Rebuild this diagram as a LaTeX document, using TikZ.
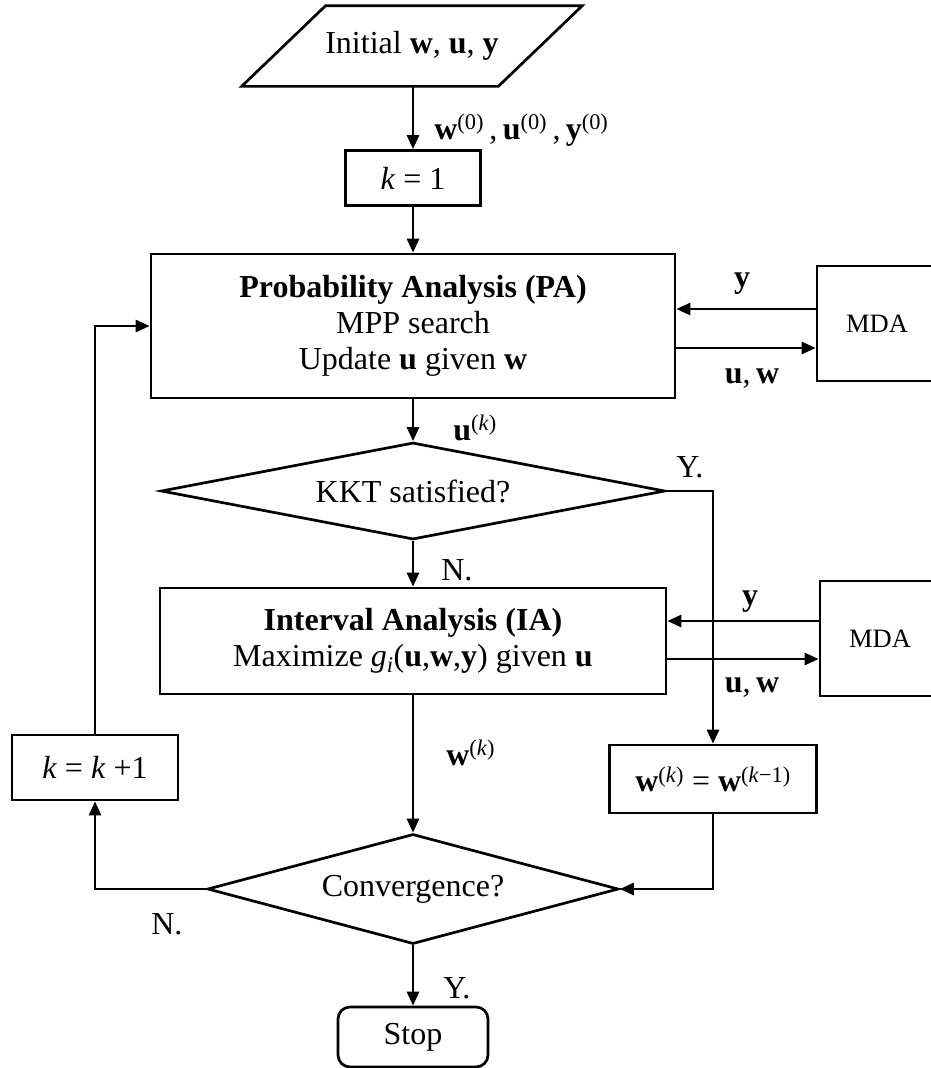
\documentclass[tikz,border=0pt]{standalone}
\usepackage{fontspec}
\setmainfont{Liberation Serif}
\usetikzlibrary{shapes.geometric,arrows.meta}
\begin{document}
\begin{tikzpicture}[x=1pt, y=-1pt, line width=2.7pt, line join=miter,
	font=\fontsize{32}{36}\selectfont, >={Triangle[length=14pt,width=12pt]},
	box/.style={draw, rectangle, inner sep=0pt, align=center},
	decision/.style={draw, diamond, inner sep=0pt},
	mdabox/.style={box, minimum width=120pt, minimum height=115pt, font=\fontsize{26.5}{30}\selectfont},
	lbl/.style={inner sep=0pt, anchor=base west}]
	\def\xc{413}
	\def\slant{42}
	\useasboundingbox (0,0) rectangle (930,1068);
	%\draw[gray!40] (0,0) grid[step=50pt] (930,1068);
	\node[inner sep=0pt, minimum width=254pt, minimum height=78pt] (init) at (412,46) {Initial \textbf{w}, \textbf{u}, \textbf{y}};
	\draw ([xshift=\slant]init.north west) -- ([xshift=\slant]init.north east) -- ([xshift=-\slant]init.south east) -- ([xshift=-\slant]init.south west) -- cycle;
	\node[box, minimum width=135pt, minimum height=55pt] (k1) at (\xc,178) {\textit{k} = 1};
	\node[box, minimum width=524pt, minimum height=144pt] (pa) at (\xc,326) {\textbf{Probability Analysis (PA)}\\MPP search\\Update \textbf{u} given \textbf{w}};
	\node[mdabox] (mda1) at (877,323.5) {MDA};
	\node[decision, aspect=5.2, minimum width=504pt, minimum height=97pt] (kkt) at (\xc,491) {KKT satisfied?};
	\node[box, minimum width=506pt, minimum height=106pt] (ia) at (\xc,641) {\textbf{Interval Analysis (IA)}\\Maximize \textit{g}\textsubscript{\textit{i}}(\textbf{u},\textbf{w},\textbf{y}) given \textbf{u}};
	\node[mdabox] (mda2) at (880,638.5) {MDA};
	\node[box, minimum width=207pt, minimum height=68pt] (wk) at (713,779) {\textbf{w}\textsuperscript{(\textit{k})} = \textbf{w}\textsuperscript{(\textit{k}−1)}};
	\node[box, minimum width=166pt, minimum height=65pt] (kk) at (95,767.5) {\textit{k} = \textit{k} +1};
	\node[decision, aspect=3.74, minimum width=411pt, minimum height=110pt] (conv) at (\xc,889) {Convergence?};
	\node[box, rounded corners=12pt, minimum width=150pt, minimum height=60pt] (stop) at (\xc,1037) {Stop};
	% connectors
	\draw[->] (init.south -| k1.north) -- (k1.north);
	\draw[->] (k1.south) -- (pa.north);
	\draw[->] ([yshift=14.5pt]mda1.west) coordinate (ya) -- (ya -| pa.east);
	\draw[->] ([yshift=-24.5pt]mda1.west -| pa.east) coordinate (ua) -- (ua -| mda1.west);
	\draw[->] (pa.south) -- (kkt.north);
	\draw[->] (kkt.east) -| (wk.north);
	\draw[->] (kkt.south) -- (ia.north);
	\draw[->] ([yshift=17.5pt]mda2.west) coordinate (yb) -- (yb -| ia.east);
	\draw[->] ([yshift=-20.5pt]mda2.west -| ia.east) coordinate (ub) -- (ub -| mda2.west);
	\draw[->] (ia.south) -- (conv.north);
	\draw[->] (wk.south) |- (conv.east);
	\draw[->] (conv.west) -| (kk.south);
	\draw[->] (kk.north) |- (pa.west);
	\draw[->] (conv.south) -- (stop.north);
	% labels
	\node[lbl] (l0) at (433,139) {\textbf{w}\textsuperscript{(0)}\,,\,\textbf{u}\textsuperscript{(0)}\,,\,\textbf{y}\textsuperscript{(0)}};
	\node[lbl, anchor=base] (lya) at (742,287) {\textbf{y}};
	\node[lbl, anchor=base] (lua) at (752,383) {\textbf{u},\,\textbf{w}};
	\node[lbl] (luk) at (452,440) {\textbf{u}\textsuperscript{(\textit{k})}};
	\node[lbl] (ly1) at (675,477) {Y.};
	\node[lbl] (ln1) at (440,580) {N.};
	\node[lbl, anchor=base] (lyb) at (750,605) {\textbf{y}};
	\node[lbl, anchor=base] (lub) at (752,692) {\textbf{u},\,\textbf{w}};
	\node[lbl] (lwk) at (445,765) {\textbf{w}\textsuperscript{(\textit{k})}};
	\node[lbl] (ln2) at (150,934) {N.};
	\node[lbl] (ly2) at (442,998) {Y.};
\end{tikzpicture}
\end{document}
